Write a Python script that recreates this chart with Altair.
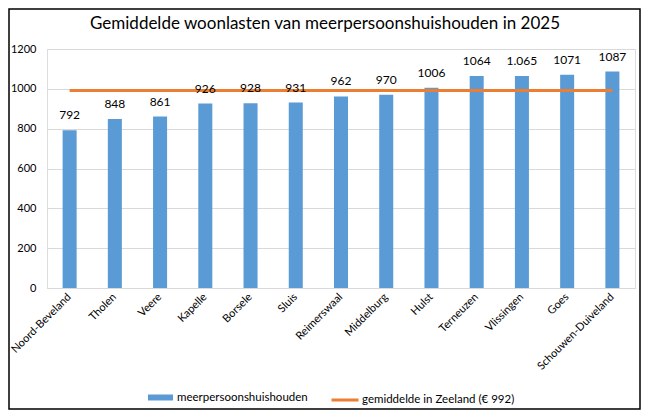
import altair as alt
import pandas as pd

categories = ["Noord-Beveland", "Tholen", "Veere", "Kapelle", "Borsele", "Sluis",
              "Reimerswaal", "Middelburg", "Hulst", "Terneuzen", "Vlissingen", "Goes",
              "Schouwen-Duiveland"]
values = [792, 848, 861, 926, 928, 931, 962, 970, 1006, 1064, 1065, 1071, 1087]
value_labels = ["792", "848", "861", "926", "928", "931", "962", "970", "1006",
                "1064", "1.065", "1071", "1087"]
y_ticks = [0, 200, 400, 600, 800, 1000, 1200]
average = 992
bar_series = "meerpersoonshuishouden"
line_series = "gemiddelde in Zeeland (€ 992)"
title_text = "Gemiddelde woonlasten van meerpersoonshuishouden in 2025"

df = pd.DataFrame({
    "gemeente": categories,
    "waarde": values,
    "label": value_labels,
    "gemiddelde": [average] * len(categories),
    "s_bar": [bar_series] * len(categories),
    "s_line": [line_series] * len(categories),
})

FONT = "Lato"
W, H = 588, 239
PL, PT, PR, PB = 39, 41, 6, 122

xscale = alt.Scale(paddingInner=0.69, paddingOuter=0.345)
xaxis = alt.Axis(labelAngle=-45, labelAlign="right", labelBaseline="middle",
                 labelPadding=7, ticks=False, domainColor="#D9D9D9",
                 labelFont=FONT, labelFontSize=11, labelColor="#000000")
yscale = alt.Scale(domain=[0, 1200])
yaxis = alt.Axis(values=y_ticks, format="d", labelOverlap=False, domain=False,
                 ticks=False, gridColor="#D9D9D9", labelPadding=11,
                 labelFont=FONT, labelFontSize=11, labelColor="#000000")

def X():
    return alt.X("gemeente:N", sort=categories, title=None, scale=xscale, axis=xaxis)

base = alt.Chart(df)

bars = base.mark_bar(stroke=None).encode(
    x=X(),
    y=alt.Y("waarde:Q", scale=yscale, title=None, axis=yaxis),
    color=alt.Color("s_bar:N", scale=alt.Scale(range=["#5B9BD5"]),
                    legend=alt.Legend(title=None, orient="none", legendX=101, legendY=336,
                                      symbolType="M-1,-0.24H1V0.24H-1Z", symbolSize=625,
                                      symbolStrokeWidth=0, labelFont=FONT, labelFontSize=11.5,
                                      labelColor="#000000", labelOffset=4, padding=0)),
)

line = base.mark_line(strokeWidth=3).encode(
    x=X(),
    y=alt.Y("gemiddelde:Q", scale=yscale, title=None, axis=yaxis),
    stroke=alt.Stroke("s_line:N", scale=alt.Scale(range=["#ED7D31"]),
                      legend=alt.Legend(title=None, orient="none", legendX=283, legendY=336,
                                        symbolType="stroke", symbolSize=729,
                                        symbolStrokeWidth=3, labelFont=FONT,
                                        labelFontSize=11.5, labelColor="#000000",
                                        labelOffset=2, padding=0)),
)

texts = base.mark_text(dy=-8, baseline="bottom", font=FONT, fontSize=12,
                       color="#000000").encode(
    x=X(),
    y=alt.Y("waarde:Q", scale=yscale, title=None, axis=yaxis),
    text="label:N",
)

title_df = pd.DataFrame({"t": [title_text]})
title = alt.Chart(title_df).mark_text(
    font=FONT, fontSize=17, color="#000000", baseline="alphabetic", align="center"
).encode(x=alt.value(278), y=alt.value(-20), text="t:N")

frame = alt.Chart(pd.DataFrame({"f": [0]})).mark_rect(
    fill=None, stroke="#000000", strokeWidth=1.5).encode(
    x=alt.value(-PL + 1), x2=alt.value(W + PR - 1),
    y=alt.value(-PT + 1), y2=alt.value(H + PB - 1),
)

chart = alt.layer(bars, line, texts, title, frame).resolve_scale(
    color="independent", stroke="independent"
).properties(
    width=W, height=H,
    autosize=alt.AutoSizeParams(type="none"),
    padding={"left": PL, "top": PT, "right": PR, "bottom": PB},
).configure_view(stroke=None).configure(background="white")

chart.save("out.html", embed_options={"renderer": "svg", "actions": False})
